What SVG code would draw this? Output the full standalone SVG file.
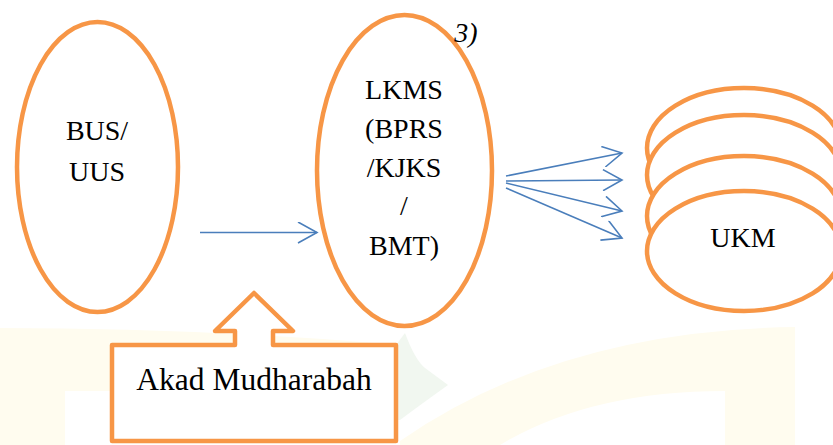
<svg xmlns="http://www.w3.org/2000/svg" width="833" height="445" viewBox="0 0 833 445">
  <style>
    .node { fill: #FFFFFF; stroke: #F79646; stroke-width: 4.5; }
    .label { font-family: 'Liberation Serif', 'Times New Roman', serif; font-size: 28px; fill: #000000; text-anchor: middle; }
    .link { fill: none; stroke: #4A7EBB; stroke-width: 1.6; }
    .wm-y { fill: #FFFCEF; }
    .wm-g { fill: #F1F7F0; }
  </style>
  <defs>
    <marker id="chevron" viewBox="0 0 22 22" refX="20" refY="11" markerWidth="22" markerHeight="22" markerUnits="userSpaceOnUse" orient="auto">
      <path d="M1,0.5 L20,11 L1,21.5" fill="none" stroke="#4A7EBB" stroke-width="1.6"/>
    </marker>
  </defs>

  <rect width="833" height="445" fill="#FFFFFF"/>

  <!-- faint background emblem -->
  <g id="emblem">
    <path class="wm-y" d="M0,328 Q200,328 400,345 L400,391 L65,391 L65,445 L0,445 Z"/>
    <path class="wm-y" d="M400,441 Q560,330 795,327 L795,445 L725,445 L725,391 Q590,391 500,445 L400,445 Z"/>
    <path class="wm-g" d="M405,333 Q415,360 425,368 L448,385 Q420,405 400,420 L396,420 L396,345 Z"/>
  </g>

  <g id="bus-uus">
    <ellipse class="node" cx="97.5" cy="167" rx="80.5" ry="145"/>
    <text class="label" x="97" y="140">BUS/</text>
    <text class="label" x="97" y="181">UUS</text>
  </g>

  <g id="lkms">
    <ellipse class="node" cx="404.5" cy="170.5" rx="87.5" ry="155.5"/>
    <text class="label" x="404" y="99">LKMS</text>
    <text class="label" x="404" y="138">(BPRS</text>
    <text class="label" x="404" y="177">/KJKS</text>
    <text class="label" x="404" y="215">/</text>
    <text class="label" x="404" y="255">BMT)</text>
  </g>

  <text class="label" x="466" y="42" style="font-style:italic">3)</text>

  <g id="ukm">
    <ellipse class="node" cx="744" cy="148" rx="97" ry="60"/>
    <ellipse class="node" cx="744" cy="175" rx="97" ry="60"/>
    <ellipse class="node" cx="744" cy="216" rx="97" ry="60"/>
    <ellipse class="node" cx="744" cy="251" rx="97" ry="60"/>
    <text class="label" x="743" y="247">UKM</text>
  </g>

  <g id="akad-mudharabah">
    <path class="node" stroke-linejoin="round" d="M112,345 L235,345 L235,331 L215,331 L254,293 L293,331 L273,331 L273,345 L396,345 L396,441 L112,441 Z"/>
    <text class="label" x="254" y="390" style="font-size:31.5px">Akad Mudharabah</text>
  </g>

  <g id="connectors">
    <line class="link" x1="200" y1="232.5" x2="317" y2="232.5" marker-end="url(#chevron)"/>
    <line class="link" x1="506" y1="176" x2="622" y2="153" marker-end="url(#chevron)"/>
    <line class="link" x1="506" y1="181" x2="622" y2="180" marker-end="url(#chevron)"/>
    <line class="link" x1="506" y1="183" x2="622" y2="211" marker-end="url(#chevron)"/>
    <line class="link" x1="506" y1="188" x2="622" y2="238" marker-end="url(#chevron)"/>
  </g>
</svg>
